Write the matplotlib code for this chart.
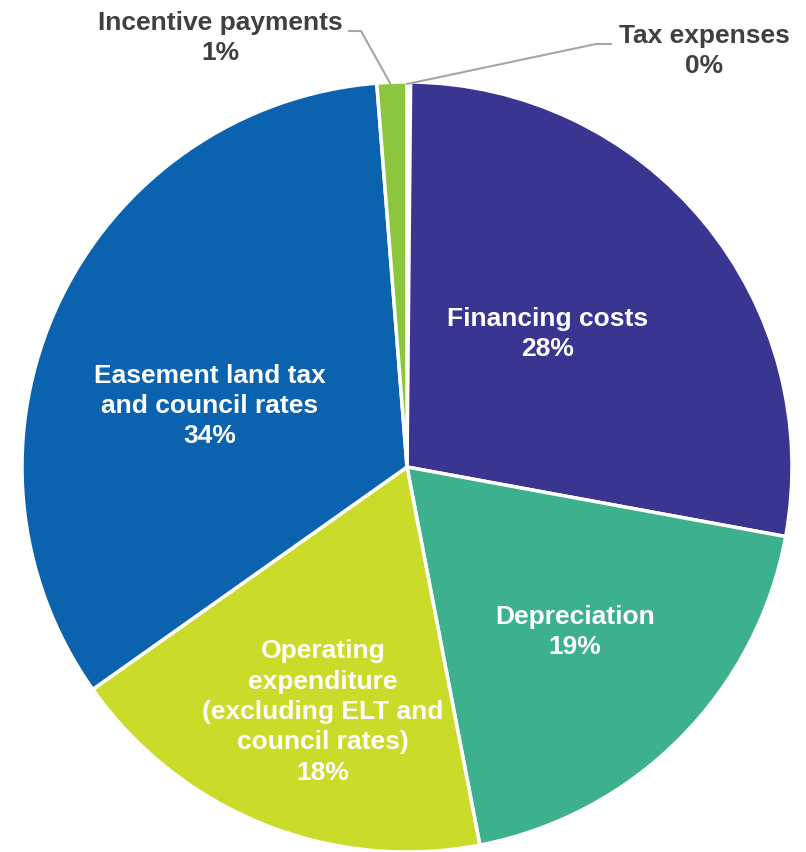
import matplotlib
matplotlib.use("Agg")
import matplotlib.pyplot as plt

categories = ["Tax expenses", "Financing costs", "Depreciation",
              "Operating\nexpenditure\n(excluding ELT and\ncouncil rates)",
              "Easement land tax\nand council rates", "Incentive payments"]
values = [0.15, 27.7, 19.05, 18.2, 33.5, 1.25]
pct_labels = ["0%", "28%", "19%", "18%", "34%", "1%"]
colors = ["#3A3590", "#3A3590", "#3DB08D", "#CBDB2A", "#0B63B0", "#8CC63F"]

W, H = 806, 852
fig = plt.figure(figsize=(W / 100, H / 100), dpi=100)
ax = fig.add_axes([0, 0, 1, 1])
plt.rcParams['font.family'] = ['Liberation Sans', 'DejaVu Sans']

cx, cy, r = 407, H - 467, 385
ax.pie(values, colors=colors, startangle=90, counterclock=False,
       center=(cx, cy), radius=r,
       wedgeprops=dict(edgecolor="white", linewidth=2.5))
ax.set_xlim(0, W)
ax.set_ylim(0, H)
ax.set_aspect("equal")
ax.axis("off")

fs = 19
ls = 1.33
# inside labels (pixel positions of label centres)
inside = {1: (548, 334), 2: (575, 632), 3: (323, 712), 4: (210, 406)}
for i, (x, y) in inside.items():
    ax.text(x, H - y, categories[i] + "\n" + pct_labels[i], ha="center", va="center",
            color="white", fontsize=fs, fontweight="bold", linespacing=ls,
            family=['Liberation Sans', 'DejaVu Sans'])

outside = {5: (220, 38), 0: (704, 51)}
for i, (x, y) in outside.items():
    ax.text(x, H - y, categories[i] + "\n" + pct_labels[i], ha="center", va="center",
            color="#404040", fontsize=fs, fontweight="bold", linespacing=ls,
            family=['Liberation Sans', 'DejaVu Sans'])

# leader lines
ax.plot([349, 361, 390], [H - 31, H - 31, H - 83], color="#A6A6A6", lw=1.5)
ax.plot([611, 596, 407], [H - 44, H - 44, H - 84], color="#A6A6A6", lw=1.5)

fig.savefig("out.png", dpi=100)
